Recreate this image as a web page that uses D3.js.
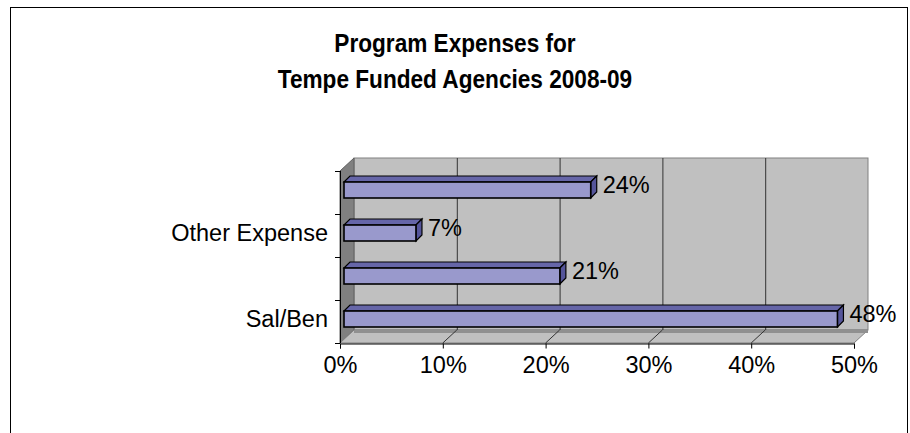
<!DOCTYPE html>
<html>
<head>
<meta charset="utf-8">
<script src="https://cdn.jsdelivr.net/npm/d3@7"></script>
<style>
  body { margin: 0; background: #fff; }
  text { font-family: "Liberation Sans", Arial, sans-serif; }
</style>
</head>
<body>
<div id="chart-area"></div>
<script>
// Data
// ****
const categories = ["Sal/Ben", "Operating", "Other Expense", "Occupancy"]
const values = [0.48, 0.21, 0.07, 0.24]
const shownLabels = ["Sal/Ben", "Other Expense"]
const xTicks = [0, 0.1, 0.2, 0.3, 0.4, 0.5]
const titleLines = ["Program Expenses for", "Tempe Funded Agencies 2008-09"]

// Config
// ******
const width = 910, height = 433
const plot = {left: 340, right: 854, top: 171, bottom: 343}
const depth = {dx: 14, dy: -13}       // wall depth
const barOff = {dx: 4, dy: -3}        // bar front plane offset
const barDepth = {dx: 6, dy: -6}
const barH = 16

const svg = d3.select("#chart-area")
  .append("svg")
    .attr("width", width)
    .attr("height", height)

// Frame
svg.append("rect")
  .attr("x", 10.5).attr("y", 7.5)
  .attr("width", 897).attr("height", 440)
  .attr("fill", "none")
  .attr("stroke", "#000")

// Title (narrow bold look)
const sx = 0.87
svg.append("g")
  .attr("transform", "scale(" + sx + ",1)")
  .selectAll("text.title").data(titleLines).enter()
  .append("text")
    .attr("class", "title")
    .attr("x", 455 / sx)
    .attr("y", (d, i) => 52 + i * 36)
    .attr("text-anchor", "middle")
    .attr("font-size", "26px")
    .attr("font-weight", "bold")
    .text(d => d)

// Scales
// ******
const x = d3.scaleLinear().domain([0, 0.5]).range([plot.left, plot.right])
const y = d3.scaleBand().domain(categories).range([plot.bottom, plot.top])

// Walls & Floor
// *************
const pts = p => p.map(d => d.join(",")).join(" ")

// back wall
svg.append("rect")
  .attr("x", plot.left + depth.dx).attr("y", plot.top + depth.dy)
  .attr("width", plot.right - plot.left).attr("height", plot.bottom - plot.top)
  .attr("fill", "#C0C0C0")
  .attr("stroke", "#808080")

// left wall
svg.append("polygon")
  .attr("points", pts([[plot.left, plot.top], [plot.left + depth.dx, plot.top + depth.dy],
    [plot.left + depth.dx, plot.bottom + depth.dy], [plot.left, plot.bottom]]))
  .attr("fill", "#808080")
  .attr("stroke", "#606060")

// floor
svg.append("polygon")
  .attr("points", pts([[plot.left, plot.bottom], [plot.right, plot.bottom],
    [plot.right + depth.dx, plot.bottom + depth.dy], [plot.left + depth.dx, plot.bottom + depth.dy]]))
  .attr("fill", "#C0C0C0")
  .attr("stroke", "#808080")
svg.append("line")
  .attr("x1", plot.left + depth.dx).attr("x2", plot.right + depth.dx)
  .attr("y1", plot.bottom + depth.dy + 1.5).attr("y2", plot.bottom + depth.dy + 1.5)
  .attr("stroke", "#909090").attr("stroke-width", 3)

// gridlines on back wall and floor
const inner = xTicks.slice(1, -1)
svg.selectAll("line.grid").data(inner).enter()
  .append("line")
    .attr("class", "grid")
    .attr("x1", d => x(d) + depth.dx + 0.5).attr("x2", d => x(d) + depth.dx + 0.5)
    .attr("y1", plot.top + depth.dy).attr("y2", plot.bottom + depth.dy)
    .attr("stroke", "#333")
svg.selectAll("line.floorgrid").data(inner).enter()
  .append("line")
    .attr("class", "floorgrid")
    .attr("x1", d => x(d)).attr("x2", d => x(d) + depth.dx)
    .attr("y1", plot.bottom).attr("y2", plot.bottom + depth.dy)
    .attr("stroke", "#333")

// Axes
// ****
const bottomAxis = d3.axisBottom(x)
  .tickValues(xTicks)
  .tickFormat(d3.format(".0%"))
  .tickSize(5)
  .tickPadding(8)
const ax = svg.append("g")
  .attr("class", "bottom axis")
  .attr("transform", "translate(0, " + (plot.bottom + 0.5) + ")")
  .call(bottomAxis)
ax.select(".domain").attr("stroke", "#000")
ax.selectAll("text")
  .attr("font-size", "23.5px")
  .attr("font-family", "Liberation Sans, Arial, sans-serif")
  .attr("fill", "#000")

// left axis line and band ticks
svg.append("line")
  .attr("x1", plot.left + 0.5).attr("x2", plot.left + 0.5)
  .attr("y1", plot.top).attr("y2", plot.bottom)
  .attr("stroke", "#000")
const bandEdges = categories.map(c => y(c)).concat([plot.bottom])
svg.selectAll("line.ytick").data(bandEdges).enter()
  .append("line")
    .attr("class", "ytick")
    .attr("x1", plot.left - 5).attr("x2", plot.left)
    .attr("y1", d => Math.round(d) + 0.5).attr("y2", d => Math.round(d) + 0.5)
    .attr("stroke", "#000")

svg.selectAll("text.cat").data(categories.filter(c => shownLabels.includes(c))).enter()
  .append("text")
    .attr("class", "cat")
    .attr("x", plot.left - 12)
    .attr("y", d => y(d) + y.bandwidth() / 2 - 2.5 + 8.4)
    .attr("text-anchor", "end")
    .attr("font-size", "23.5px")
    .text(d => d)

// Bars
// ****
const bars = categories.map((c, i) => {
  const x0 = x(0) + barOff.dx
  const x1 = x(values[i]) + barOff.dx
  const y0 = y(c) + y.bandwidth() / 2 + barOff.dy - barH / 2 + 0.5
  return {c, v: values[i], x0, x1, y0, y1: y0 + barH}
})

const bar = svg.selectAll("g.bar").data(bars).enter()
  .append("g").attr("class", "bar")

// top face
bar.append("polygon")
  .attr("points", d => pts([[d.x0, d.y0], [d.x1, d.y0],
    [d.x1 + barDepth.dx, d.y0 + barDepth.dy], [d.x0 + barDepth.dx, d.y0 + barDepth.dy]]))
  .attr("fill", "#6666A8").attr("stroke", "#000").attr("stroke-width", 1.2)
// side face
bar.append("polygon")
  .attr("points", d => pts([[d.x1, d.y0], [d.x1 + barDepth.dx, d.y0 + barDepth.dy],
    [d.x1 + barDepth.dx, d.y1 + barDepth.dy], [d.x1, d.y1]]))
  .attr("fill", "#55559A").attr("stroke", "#000").attr("stroke-width", 1.2)
// front face
bar.append("rect")
  .attr("x", d => d.x0).attr("y", d => d.y0)
  .attr("width", d => d.x1 - d.x0).attr("height", barH)
  .attr("fill", "#9999CC").attr("stroke", "#000").attr("stroke-width", 1.6)

// value labels
bar.append("text")
  .attr("x", d => d.x1 + barDepth.dx + 6)
  .attr("y", d => (d.y0 + d.y1) / 2 + barDepth.dy + 9)
  .attr("font-size", "23.5px")
  .text(d => d3.format(".0%")(d.v))
</script>
</body>
</html>
